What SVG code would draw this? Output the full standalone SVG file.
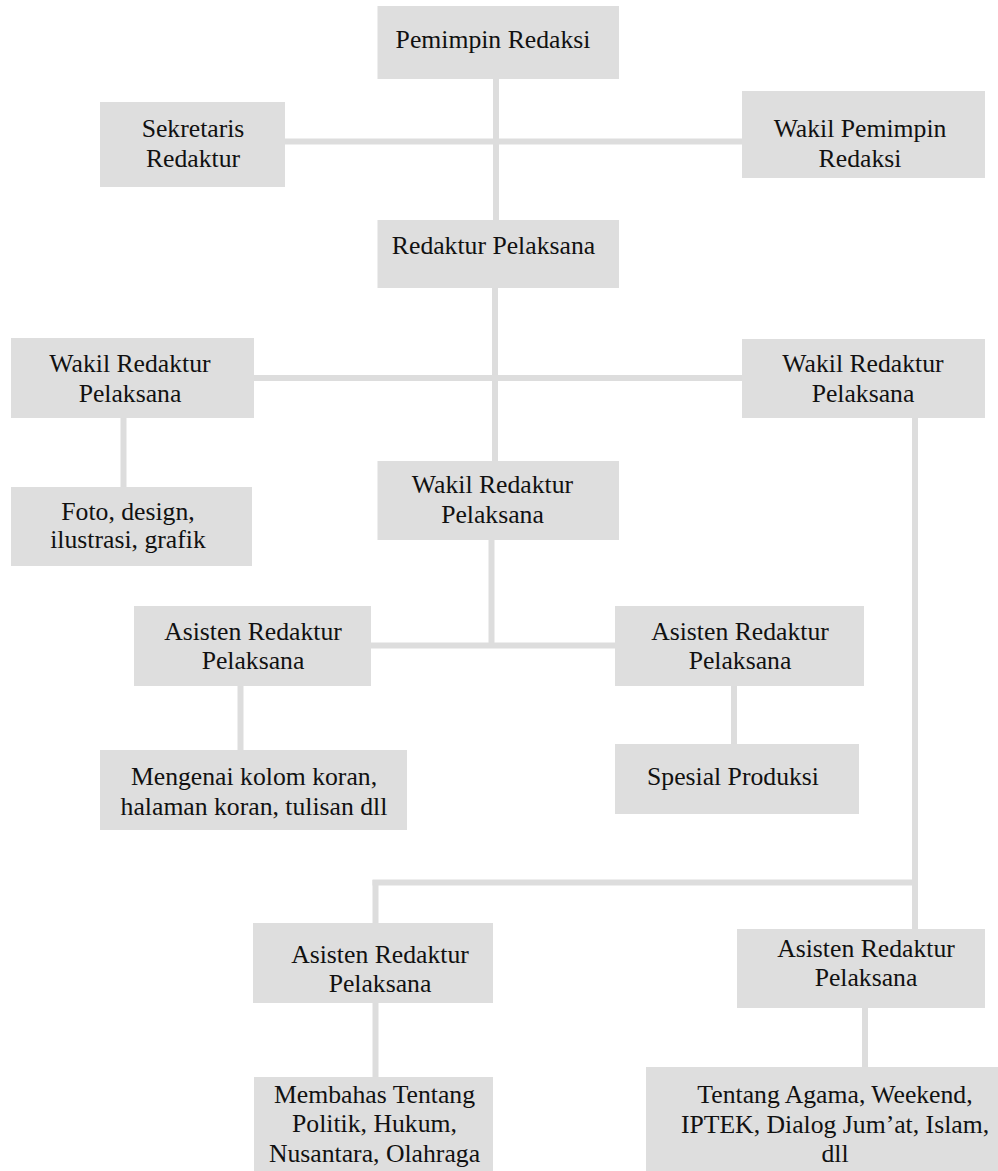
<svg xmlns="http://www.w3.org/2000/svg" width="998" height="1171" viewBox="0 0 998 1171">
<style>
.box{fill:#dedede}
.ln{stroke:#dddddd;stroke-width:6;fill:none}
text{font-family:"Liberation Serif","Times New Roman",serif;font-size:25.7px;fill:#111;text-anchor:middle}
</style>
<rect width="998" height="1171" fill="#ffffff"/>
<g id="connectors">
<line class="ln" x1="496" y1="79" x2="496" y2="220"/>
<line class="ln" x1="285" y1="141.5" x2="742" y2="141.5"/>
<line class="ln" x1="495" y1="288" x2="495" y2="461"/>
<line class="ln" x1="254" y1="378" x2="742" y2="378"/>
<line class="ln" x1="123.5" y1="418" x2="123.5" y2="487"/>
<line class="ln" x1="491.5" y1="540" x2="491.5" y2="648"/>
<line class="ln" x1="371" y1="645.5" x2="615" y2="645.5"/>
<line class="ln" x1="240.5" y1="686" x2="240.5" y2="750"/>
<line class="ln" x1="734" y1="686" x2="734" y2="744"/>
<line class="ln" x1="915" y1="418" x2="915" y2="929"/>
<line class="ln" x1="372.5" y1="882.5" x2="918" y2="882.5"/>
<line class="ln" x1="375.5" y1="880" x2="375.5" y2="923"/>
<line class="ln" x1="375.5" y1="1003" x2="375.5" y2="1077"/>
<line class="ln" x1="865" y1="1008" x2="865" y2="1067"/>
</g>
<g id="pemimpin-redaksi"><rect class="box" x="377.5" y="6" width="241.5" height="73"/><text x="493" y="48">Pemimpin Redaksi</text></g>
<g id="sekretaris-redaktur"><rect class="box" x="100" y="102" width="185" height="85"/><text x="193" y="137">Sekretaris</text><text x="193" y="167">Redaktur</text></g>
<g id="wakil-pemimpin-redaksi"><rect class="box" x="742" y="91" width="243" height="87"/><text x="860" y="137">Wakil Pemimpin</text><text x="860" y="167">Redaksi</text></g>
<g id="redaktur-pelaksana"><rect class="box" x="377.5" y="220" width="241.5" height="68"/><text x="493.5" y="254">Redaktur Pelaksana</text></g>
<g id="wakil-redaktur-kiri"><rect class="box" x="11" y="338" width="243" height="80"/><text x="130" y="372">Wakil Redaktur</text><text x="130" y="402">Pelaksana</text></g>
<g id="wakil-redaktur-kanan"><rect class="box" x="742" y="339" width="243" height="79"/><text x="863" y="372">Wakil Redaktur</text><text x="863" y="402">Pelaksana</text></g>
<g id="foto-design"><rect class="box" x="11" y="487" width="241" height="79"/><text x="128" y="520">Foto, design,</text><text x="128" y="548">ilustrasi, grafik</text></g>
<g id="wakil-redaktur-tengah"><rect class="box" x="377.5" y="461" width="241.5" height="79"/><text x="492.5" y="493">Wakil Redaktur</text><text x="492.5" y="523">Pelaksana</text></g>
<g id="asisten-kiri"><rect class="box" x="134" y="606" width="237" height="80"/><text x="253" y="640">Asisten Redaktur</text><text x="253" y="669">Pelaksana</text></g>
<g id="asisten-kanan"><rect class="box" x="615" y="606" width="249" height="80"/><text x="740" y="640">Asisten Redaktur</text><text x="740" y="669">Pelaksana</text></g>
<g id="mengenai-kolom"><rect class="box" x="100" y="750" width="307" height="80"/><text x="254" y="785">Mengenai kolom koran,</text><text x="254" y="815">halaman koran, tulisan dll</text></g>
<g id="spesial-produksi"><rect class="box" x="615" y="744" width="244" height="70"/><text x="733" y="785">Spesial Produksi</text></g>
<g id="asisten-bawah-kiri"><rect class="box" x="253" y="923" width="240" height="80"/><text x="380" y="963">Asisten Redaktur</text><text x="380" y="992">Pelaksana</text></g>
<g id="asisten-bawah-kanan"><rect class="box" x="737" y="929" width="248" height="79"/><text x="866" y="957">Asisten Redaktur</text><text x="866" y="986">Pelaksana</text></g>
<g id="membahas-tentang"><rect class="box" x="254" y="1077" width="239" height="94"/><text x="374.5" y="1103">Membahas Tentang</text><text x="374.5" y="1132">Politik, Hukum,</text><text x="374.5" y="1162">Nusantara, Olahraga</text></g>
<g id="tentang-agama"><rect class="box" x="646" y="1067" width="352" height="104"/><text x="835" y="1103">Tentang Agama, Weekend,</text><text x="835" y="1133">IPTEK, Dialog Jum’at, Islam,</text><text x="835" y="1162">dll</text></g>
</svg>
